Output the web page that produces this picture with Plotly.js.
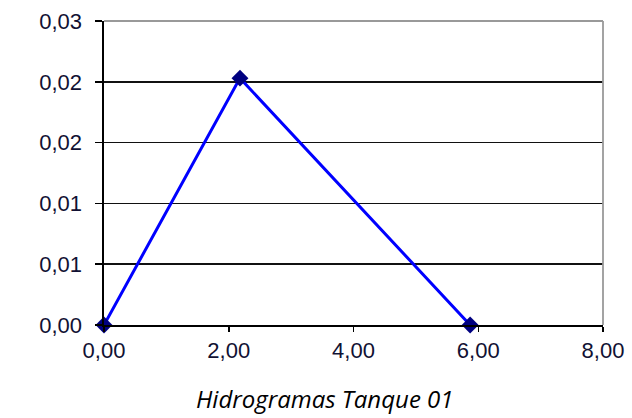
<!DOCTYPE html>
<html>
<head>
<meta charset="utf-8">
<script src="https://cdn.plot.ly/plotly-3.0.1.min.js"></script>
<style>
  html, body { margin: 0; padding: 0; background: #fff; }
  #chart { width: 632px; height: 418px; }
</style>
</head>
<body>
<div id="chart"></div>
<script>
// Hydrograph for tank 01: time vs. flow
const tempo = [0.00, 2.18, 5.87];
const vazao = [0.000, 0.0203, 0.000];

const xTickVals = [0, 2, 4, 6, 8];
const xTickText = ['0,00', '2,00', '4,00', '6,00', '8,00'];
const yTickVals = [0, 0.005, 0.01, 0.015, 0.02, 0.025];
const yTickText = ['0,00', '0,01', '0,01', '0,02', '0,02', '0,03'];

const chartTitle = 'Hidrogramas Tanque 01';

const tickFont = { family: 'Liberation Sans, Arial, sans-serif', size: 22, color: '#111133' };

const trace = {
  x: tempo,
  y: vazao,
  mode: 'lines+markers',
  type: 'scatter',
  line: { color: '#0000ff', width: 3 },
  marker: { symbol: 'diamond', size: 13, color: '#000080' },
  cliponaxis: false,
  hoverinfo: 'skip'
};

const layout = {
  width: 632,
  height: 418,
  margin: { l: 104, r: 29, t: 21, b: 93 },
  paper_bgcolor: '#ffffff',
  plot_bgcolor: '#ffffff',
  showlegend: false,
  xaxis: {
    range: [0, 8],
    tickvals: xTickVals,
    ticktext: xTickText,
    showgrid: false,
    zeroline: false,
    showline: true,
    linecolor: '#000000',
    linewidth: 1.6,
    ticks: 'outside',
    ticklen: 5,
    tickcolor: '#000000',
    tickwidth: 1.5,
    tickfont: tickFont,
    fixedrange: true
  },
  yaxis: {
    range: [0, 0.025],
    tickvals: yTickVals,
    ticktext: yTickText,
    showgrid: true,
    gridcolor: '#111111',
    gridwidth: 1.6,
    zeroline: false,
    showline: true,
    linecolor: '#000000',
    linewidth: 1.6,
    ticks: 'outside',
    ticklen: 7,
    tickcolor: '#000000',
    tickwidth: 1.5,
    ticklabelstandoff: 9,
    tickfont: tickFont,
    fixedrange: true
  },
  shapes: [
    // light frame on top and right of the plot area
    { type: 'line', xref: 'paper', yref: 'paper', x0: 0, x1: 1, y0: 1, y1: 1,
      line: { color: '#999999', width: 1.8 }, layer: 'above' },
    { type: 'line', xref: 'paper', yref: 'paper', x0: 1, x1: 1, y0: 0, y1: 1,
      line: { color: '#999999', width: 1.8 }, layer: 'above' }
  ],
  annotations: [
    {
      text: chartTitle,
      xref: 'paper', yref: 'paper',
      x: (325 - 104) / 499, y: -(398 - 325) / 304,
      xanchor: 'center', yanchor: 'middle',
      showarrow: false,
      font: { family: 'Open Sans, sans-serif', size: 24, color: '#000000', style: 'italic' }
    }
  ]
};

Plotly.newPlot('chart', [trace], layout, { staticPlot: true, displayModeBar: false });
</script>
</body>
</html>
